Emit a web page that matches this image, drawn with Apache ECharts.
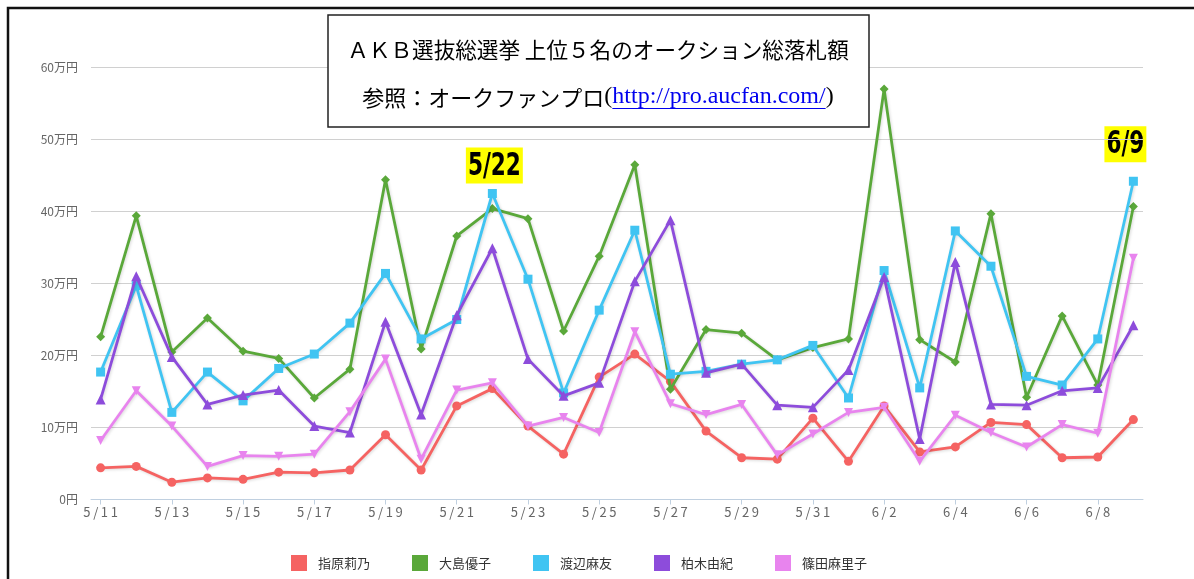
<!DOCTYPE html>
<html>
<head>
<meta charset="utf-8">
<script src="https://cdn.jsdelivr.net/npm/echarts@6/dist/echarts.min.js"></script>
<style>
html,body{margin:0;padding:0;background:#fff;}
#chart{width:1194px;height:579px;}
</style>
</head>
<body>
<div id="chart"></div>
<script>
// ---- data (values in 万円) ----
const dates = ['5/11','5/12','5/13','5/14','5/15','5/16','5/17','5/18','5/19','5/20',
               '5/21','5/22','5/23','5/24','5/25','5/26','5/27','5/28','5/29','5/30',
               '5/31','6/1','6/2','6/3','6/4','6/5','6/6','6/7','6/8','6/9'];
const names = ['指原莉乃','大島優子','渡辺麻友','柏木由紀','篠田麻里子'];
const sashihara = [4.4,4.6,2.4,3.0,2.8,3.8,3.7,4.1,9.0,4.1,13.0,15.4,10.2,6.3,17.0,20.2,16.4,9.5,5.8,5.6,11.3,5.3,13.0,6.6,7.3,10.7,10.4,5.8,5.9,11.1];
const oshima    = [22.6,39.4,20.5,25.2,20.6,19.6,14.1,18.1,44.4,20.9,36.6,40.4,39.0,23.4,33.8,46.5,15.3,23.6,23.1,19.4,21.1,22.3,57.0,22.2,19.1,39.7,14.2,25.5,15.9,40.7];
const watanabe  = [17.7,29.7,12.1,17.7,13.7,18.2,20.2,24.5,31.4,22.3,25.0,42.5,30.6,14.8,26.3,37.4,17.4,17.8,18.8,19.4,21.4,14.1,31.8,15.5,37.3,32.4,17.1,15.9,22.3,44.2];
const kashiwagi = [13.9,31.0,19.8,13.2,14.5,15.2,10.2,9.3,24.7,11.8,25.6,34.9,19.5,14.4,16.2,30.3,38.8,17.6,18.8,13.1,12.8,18.0,30.9,8.4,33.0,13.2,13.1,15.1,15.5,24.2];
const shinoda   = [8.2,15.1,10.2,4.6,6.1,6.0,6.3,12.2,19.5,5.6,15.2,16.2,10.2,11.4,9.3,23.3,13.3,11.8,13.2,6.2,9.1,12.1,12.8,5.3,11.7,9.3,7.3,10.4,9.2,33.5];
const labelDays = [0,2,4,6,8,10,12,14,16,18,20,22,24,26,28];
const highlightDays = [11, 29];
const titleLine1 = 'ＡＫＢ選抜総選挙 上位５名のオークション総落札額';
const titleLine2a = '参照：オークファンプロ';
const titleLink = 'http://pro.aucfan.com/';

const colors = ['#F56362','#5AA83A','#40C4F2','#8D4CDB','#E884EE'];
const symbols = ['circle','diamond','rect','triangle','path://M0,0 L10,0 L5,9 Z'];
const seriesData = [sashihara, oshima, watanabe, kashiwagi, shinoda];

const chart = echarts.init(document.getElementById('chart'), null, {renderer:'canvas'});

const series = seriesData.map((arr, i) => ({
  name: names[i],
  type: 'line',
  data: arr.map((v, d) => [d, v]),
  symbol: symbols[i],
  symbolSize: i === 3 ? 10 : 9,
  showSymbol: true,
  lineStyle: {width: 2.8, color: colors[i], shadowColor: 'rgba(0,0,0,0.15)', shadowBlur: 3, shadowOffsetX: 1, shadowOffsetY: 1},
  itemStyle: {color: colors[i]},
  emphasis: {disabled: true},
  animation: false,
  z: 2 + i
}));

// measure helper for title layout
const cvs = document.createElement('canvas').getContext('2d');
function tw(text, font){ cvs.font = font; return cvs.measureText(text).width; }
const jpFont1 = '21.6px "Noto Sans CJK JP"';
const jpFont = '22px "Noto Sans CJK JP"';
const linkFont = '24px "Liberation Serif"';
const w1 = tw(titleLine1, jpFont1);
const wa = tw(titleLine2a, jpFont);
const wp = tw('(', linkFont);
const wl = tw(titleLink, linkFont);
const wq = tw(')', linkFont);
const line2W = wa + wp + wl + wq;
const boxCx = 598;
const l2x = boxCx - line2W / 2;

const baseGraphics = [
  {type: 'polyline', shape: {points: [[8, 579], [8, 8], [1194, 8]]}, style: {stroke: '#111', lineWidth: 2.5, fill: null}, z: 100},
  {type: 'rect', shape: {x: 328, y: 15, width: 541, height: 112}, style: {fill: '#fff', stroke: '#222', lineWidth: 1.5}, z: 100},
  {type: 'text', x: boxCx - w1 / 2, y: 50, style: {text: titleLine1, font: jpFont1, fill: '#000', verticalAlign: 'middle'}, z: 101},
  {type: 'text', x: l2x, y: 98, style: {text: titleLine2a, font: jpFont, fill: '#000', verticalAlign: 'middle'}, z: 101},
  {type: 'text', x: l2x + wa, y: 97, style: {text: '(', font: linkFont, fill: '#000', verticalAlign: 'middle'}, z: 101},
  {type: 'text', x: l2x + wa + wp, y: 97, style: {text: titleLink, font: linkFont, fill: '#0000EE', verticalAlign: 'middle'}, z: 101},
  {type: 'line', shape: {x1: l2x + wa + wp, y1: 108.5, x2: l2x + wa + wp + wl, y2: 108.5}, style: {stroke: '#0000EE', lineWidth: 1}, z: 101},
  {type: 'text', x: l2x + wa + wp + wl, y: 97, style: {text: ')', font: linkFont, fill: '#000', verticalAlign: 'middle'}, z: 101}
];

chart.setOption({
  animation: false,
  backgroundColor: '#fff',
  grid: {left: 91, right: 51, top: 67.5, bottom: 79.5, containLabel: false},
  legend: {
    data: names,
    left: 286,
    top: 550,
    icon: 'rect',
    itemWidth: 16,
    itemHeight: 16,
    itemGap: 42,
    textStyle: {fontSize: 13, color: '#333', fontFamily: '"Noto Sans CJK JP",sans-serif', padding: [0, 0, 0, 6]},
    selectedMode: false
  },
  xAxis: {
    type: 'value',
    min: -0.27,
    max: 29.27,
    axisLine: {show: true, lineStyle: {color: '#C0D0E0', width: 1}},
    axisTick: {show: true, customValues: labelDays, length: 5, lineStyle: {color: '#C0D0E0'}},
    axisLabel: {
      customValues: labelDays,
      formatter: v => dates[Math.round(v)].split('').join('\u2009'),
      color: '#666',
      fontSize: 13,
      margin: 6,
      fontFamily: '"Noto Sans CJK JP",sans-serif'
    },
    splitLine: {show: false}
  },
  yAxis: {
    type: 'value',
    min: 0,
    max: 60,
    interval: 10,
    axisLine: {show: false},
    axisTick: {show: false},
    axisLabel: {
      formatter: v => v === 0 ? '0円' : v + '万円',
      color: '#666',
      fontSize: 12,
      margin: 13,
      fontFamily: '"Noto Sans CJK JP",sans-serif'
    },
    splitLine: {lineStyle: {color: '#D0D0D0', width: 1}}
  },
  series: series,
  graphic: baseGraphics
});

// yellow date annotations, positioned from the 渡辺麻友 points through the chart's own scales
const annOffsets = [[2, -28], [-8, -37]];
const annGraphics = highlightDays.map((d, k) => {
  const p = chart.convertToPixel({gridIndex: 0}, [d, watanabe[d]]);
  const txt = dates[d];
  const tWidth = tw(txt, 'bold 24px "DejaVu Sans Condensed"');
  const bw = tWidth + 4, bh = 36;
  const cx = p[0] + annOffsets[k][0], cy = p[1] + annOffsets[k][1];
  return {
    type: 'group', x: cx, y: cy, z: 110,
    children: [
      {type: 'rect', shape: {x: -bw / 2, y: -bh / 2, width: bw, height: bh}, style: {fill: '#FFFF00'}},
      {type: 'text', x: 0, y: 1, scaleY: 1.32,
       style: {text: txt, font: 'bold 24px "DejaVu Sans Condensed"', fill: '#000', align: 'center', verticalAlign: 'middle'}}
    ]
  };
});
chart.setOption({graphic: baseGraphics.concat(annGraphics)});
</script>
</body>
</html>
